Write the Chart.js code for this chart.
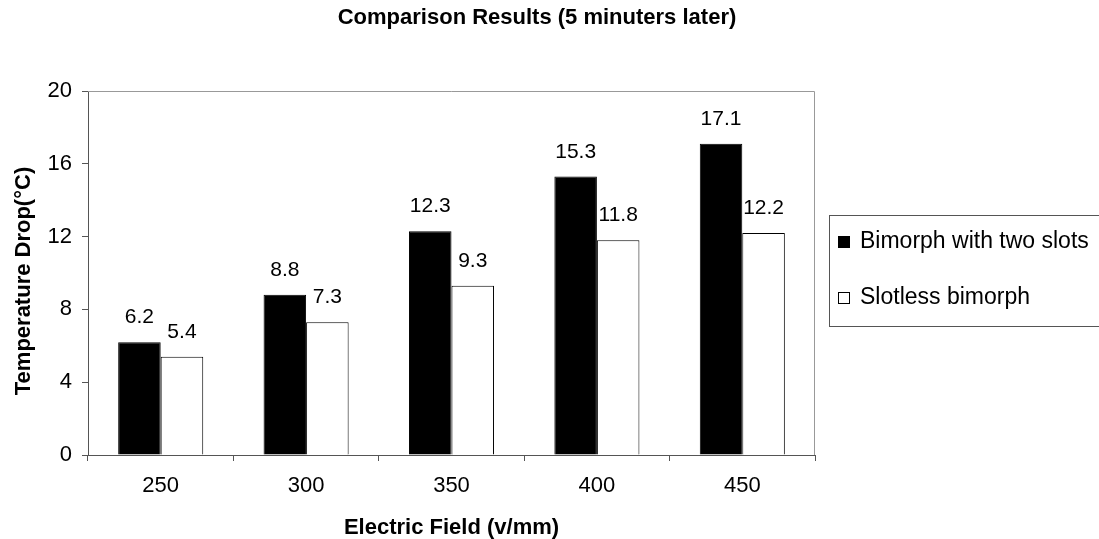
<!DOCTYPE html>
<html>
<head>
<meta charset="utf-8">
<title>Comparison Results</title>
<script src="https://cdn.jsdelivr.net/npm/chart.js@4.4.0/dist/chart.umd.min.js"></script>
<style>
  html, body { margin: 0; padding: 0; background: #fff; }
  #wrap { width: 1099px; height: 539px; }
</style>
</head>
<body>
<div id="wrap"><canvas id="tempChart" width="1099" height="539"></canvas></div>
<script>
// electric field levels (v/mm)
const fields = ['250', '300', '350', '400', '450'];
// temperature drop after 5 minutes, in degrees C
const twoSlots = [6.2, 8.8, 12.3, 15.3, 17.1];
const slotless = [5.4, 7.3, 9.3, 11.8, 12.2];
const yTicks = [0, 4, 8, 12, 16, 20];

const chartTitle = 'Comparison Results (5 minuters later)';
const xTitle = 'Electric Field (v/mm)';
const yTitle = 'Temperature Drop(°C)';

const FONT = '"Liberation Sans", Arial, sans-serif';

// titles, frame, value labels and the boxed legend
const decorations = {
  id: 'decorations',
  beforeDatasetsDraw(chart) {
    const { ctx, chartArea: a } = chart;
    ctx.save();
    ctx.strokeStyle = '#999';
    ctx.lineWidth = 1;
    ctx.beginPath();
    ctx.moveTo(a.left, a.top + 0.5);
    ctx.lineTo(a.right - 0.5, a.top + 0.5);
    ctx.lineTo(a.right - 0.5, a.bottom);
    ctx.stroke();
    ctx.restore();
  },
  afterDraw(chart) {
    const { ctx, chartArea: a } = chart;
    ctx.save();
    ctx.fillStyle = '#000';

    // chart title
    ctx.font = 'bold 22px ' + FONT;
    ctx.textAlign = 'center';
    ctx.textBaseline = 'middle';
    ctx.fillText(chartTitle, 537, 18);

    // axis titles
    ctx.fillText(xTitle, (a.left + a.right) / 2, 528);
    ctx.save();
    ctx.translate(24, 281);
    ctx.rotate(-Math.PI / 2);
    ctx.fillText(yTitle, 0, 0);
    ctx.restore();

    // value labels over each bar
    ctx.font = '21px ' + FONT;
    ctx.textBaseline = 'alphabetic';
    chart.data.datasets.forEach((ds, i) => {
      chart.getDatasetMeta(i).data.forEach((bar, j) => {
        ctx.fillText(ds.data[j].toFixed(1), bar.x, bar.y - 19);
      });
    });

    // legend box
    ctx.strokeStyle = '#555';
    ctx.lineWidth = 1;
    ctx.strokeRect(829.5, 215.5, 300, 111);
    ctx.font = '23px ' + FONT;
    ctx.textAlign = 'left';
    ctx.textBaseline = 'middle';
    const rows = [242, 298];
    chart.data.datasets.forEach((ds, i) => {
      const y = rows[i];
      ctx.fillStyle = ds.backgroundColor;
      ctx.fillRect(838, y - 6, 12, 12);
      ctx.strokeStyle = '#000';
      ctx.strokeRect(838.5, y - 5.5, 11, 11);
      ctx.fillStyle = '#000';
      ctx.fillText(ds.label, 860, y);
    });
    ctx.restore();
  }
};

new Chart(document.getElementById('tempChart'), {
  type: 'bar',
  data: {
    labels: fields,
    datasets: [{
      label: 'Bimorph with two slots',
      data: twoSlots,
      backgroundColor: '#000',
      borderColor: '#000',
      borderWidth: 1,
      categoryPercentage: 0.585,
      barPercentage: 1
    }, {
      label: 'Slotless bimorph',
      data: slotless,
      backgroundColor: '#fff',
      borderColor: '#000',
      borderWidth: 1,
      categoryPercentage: 0.585,
      barPercentage: 1
    }]
  },
  options: {
    responsive: false,
    animation: false,
    events: [],
    layout: { padding: { left: 0, top: 91, right: 284, bottom: 0 } },
    plugins: {
      legend: { display: false },
      tooltip: { enabled: false }
    },
    scales: {
      x: {
        offset: true,
        grid: {
          offset: true,
          drawOnChartArea: false,
          tickLength: 6,
          color: '#555'
        },
        border: { color: '#555' },
        ticks: {
          color: '#000',
          font: { family: FONT, size: 22 },
          padding: 12
        },
        afterFit(scale) { scale.height = 84; }
      },
      y: {
        min: 0,
        max: 20,
        afterBuildTicks(scale) {
          scale.ticks = yTicks.map(v => ({ value: v }));
        },
        grid: {
          drawOnChartArea: false,
          tickLength: 6,
          color: '#555'
        },
        border: { color: '#555' },
        ticks: {
          color: '#000',
          font: { family: FONT, size: 22 },
          padding: 10
        },
        afterFit(scale) { scale.width = 88; }
      }
    }
  },
  plugins: [decorations]
});
</script>
</body>
</html>
